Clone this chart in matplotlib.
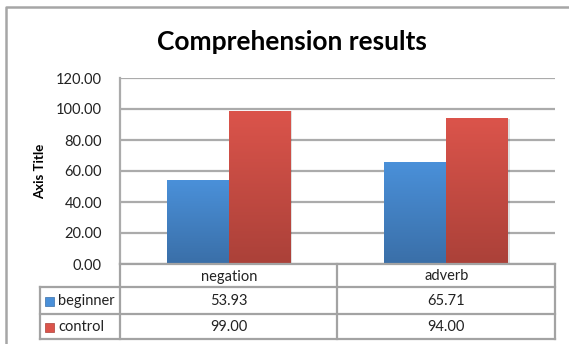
import numpy as np
import matplotlib
matplotlib.use('Agg')
from matplotlib import pyplot as plt
from matplotlib.patches import Rectangle

plt.rcParams['font.family'] = ['Lato', 'DejaVu Sans']

categories = ['negation', 'adverb']
series = ['beginner', 'control']
beginner = [53.93, 65.71]
control = [99.00, 94.00]
yticks = [0, 20, 40, 60, 80, 100, 120]

top_colors = {'beginner': '#4A90D9', 'control': '#DB544B'}
bot_colors = {'beginner': '#3A6FA8', 'control': '#AB4139'}
grid_col = '#ABABAB'

W, H = 569, 344
fig = plt.figure(figsize=(W / 100, H / 100), dpi=100)

# plot area in pixels
L, R, T, B = 120, 555, 78, 264
ax = fig.add_axes([L / W, 1 - B / H, (R - L) / W, (B - T) / H])

x = np.arange(len(categories))
bw = 0.285
values = {'beginner': beginner, 'control': control}


def grad_fill(patch, c_top, c_bot):
    x0, y0 = patch.get_x(), patch.get_y()
    w, h = patch.get_width(), patch.get_height()
    t = np.linspace(0, 1, 64).reshape(-1, 1)
    ct = np.array(matplotlib.colors.to_rgb(c_top))
    cb = np.array(matplotlib.colors.to_rgb(c_bot))
    img = (ct * (1 - t) + cb * t).reshape(64, 1, 3)
    im = ax.imshow(img, extent=[x0, x0 + w, y0, y0 + h], aspect='auto',
                   zorder=3, interpolation='bilinear')
    im.set_clip_path(patch)


for i, s in enumerate(series):
    offs = (i - 0.5) * bw
    bars = ax.bar(x + offs, values[s], bw, color=top_colors[s], zorder=3,
                  linewidth=0)
    for b in bars:
        # faint shadow
        ax.add_patch(Rectangle((b.get_x() + 0.006, 0), b.get_width(), b.get_height() - 0.6,
                               color='#000000', alpha=0.12, zorder=2, lw=0))
        grad_fill(b, top_colors[s], bot_colors[s])

ax.set_xlim(-0.5, len(categories) - 0.5)
ax.set_ylim(0, 120)
ax.set_yticks(yticks)
ax.set_yticklabels(['%.2f' % v for v in yticks], fontsize=10.5, color='#222222')
ax.set_xticks([])
ax.tick_params(axis='y', length=0, pad=13)
ax.yaxis.grid(True, color=grid_col, linewidth=1.6, zorder=0)
for sp in ['top', 'right', 'bottom']:
    ax.spines[sp].set_visible(False)
ax.spines['left'].set_color(grid_col)
ax.spines['left'].set_linewidth(1.6)
ax.set_ylabel('Axis Title', fontsize=9.5, fontweight='bold')
ax.yaxis.set_label_coords((46 - L) / (R - L), 0.5)

# overlay in pixel coordinates for border and data table
ov = fig.add_axes([0, 0, 1, 1], zorder=5)
ov.set_xlim(0, W)
ov.set_ylim(H, 0)
ov.axis('off')
ov.patch.set_alpha(0)

ov.plot([6.5, 6.5, W + 5], [H + 5, 6.5, 6.5], color='#A6A6A6', lw=1.8)

fig.text(292 / W, 1 - 42 / H, 'Comprehension results', ha='center', va='center',
         fontsize=19, fontweight='bold')

# table
tL = 40
rows_y = [264, 287, 313.5, 339]
cat_edges = [L + (R - L) * k / len(categories) for k in range(len(categories) + 1)]
tc = '#A3A3A3'
lw = 1.6
# header row lines
ov.plot([L, R], [rows_y[0], rows_y[0]], color=tc, lw=lw)
for yy in rows_y[1:]:
    ov.plot([tL, R], [yy, yy], color=tc, lw=lw)
for xe in cat_edges:
    ov.plot([xe, xe], [rows_y[0], rows_y[3]], color=tc, lw=lw)
ov.plot([tL, tL], [rows_y[1], rows_y[3]], color=tc, lw=lw)

for k, c in enumerate(categories):
    cx = (cat_edges[k] + cat_edges[k + 1]) / 2
    ov.text(cx, (rows_y[0] + rows_y[1]) / 2 + 1, c, ha='center', va='center',
            fontsize=10.5, color='#222222')
for r, s in enumerate(series):
    cy = (rows_y[r + 1] + rows_y[r + 2]) / 2 + 1
    ov.add_patch(Rectangle((45, cy - 4.5), 9, 9, facecolor=top_colors[s],
                           edgecolor=bot_colors[s], lw=0.5))
    ov.text(58, cy, s, ha='left', va='center', fontsize=10.5, color='#222222')
    for k in range(len(categories)):
        cx = (cat_edges[k] + cat_edges[k + 1]) / 2
        ov.text(cx, cy, '%.2f' % values[s][k], ha='center', va='center',
                fontsize=10.5, color='#222222')

fig.savefig('out.png', dpi=100, facecolor='white')
